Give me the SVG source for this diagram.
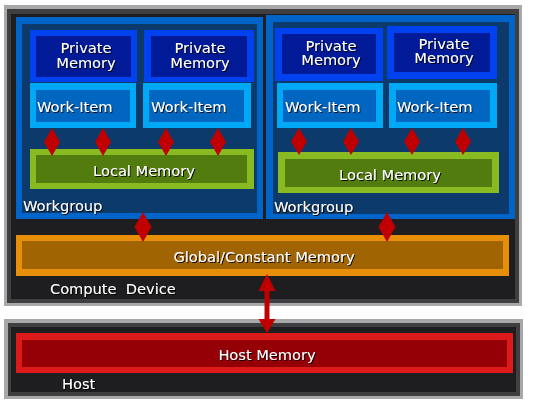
<svg xmlns="http://www.w3.org/2000/svg" width="534" height="404" viewBox="0 0 534 404">
<defs>
<filter id="sh" x="-10%" y="-30%" width="120%" height="160%">
<feDropShadow dx="1" dy="1" stdDeviation="0.4" flood-color="#000" flood-opacity="0.9"/>
</filter>
</defs>
<style>
text{font-family:"DejaVu Sans","Liberation Sans",sans-serif;font-size:14.6px;fill:#fff;filter:url(#sh);}
.c{text-anchor:middle;}
.lg{fill:#a8a8a8;}
.dg{fill:#3f3f41;}
.bk{fill:#1e1e21;}
.wgo{fill:#0064c8;}
.wgi{fill:#0b3a6b;}
.pmo{fill:#0042f0;}
.pmi{fill:#001a98;}
.wio{fill:#00a9f6;}
.wii{fill:#0066c0;}
.lmo{fill:#88bb22;}
.lmi{fill:#527d0e;}
.gmo{fill:#e88f0a;}
.gmi{fill:#a06403;}
.hmo{fill:#dc1a1a;}
.hmi{fill:#940006;}
.arr{fill:#c00000;}
</style>
<g id="compute-device">
<rect class="lg" x="4" y="5" width="518" height="301"/>
<rect class="dg" x="7" y="9" width="512" height="294"/>
<rect class="bk" x="11" y="14" width="504" height="285"/>
<text x="50" y="294" style="white-space:pre">Compute  Device</text>
</g>
<g id="workgroup-1">
<rect class="wgo" x="16" y="17" width="247" height="202"/>
<rect class="wgi" x="22" y="24" width="235" height="189"/>
<text x="23" y="211">Workgroup</text>
</g>
<g id="workgroup-2">
<rect class="wgo" x="266" y="15" width="249" height="204"/>
<rect class="wgi" x="273" y="22" width="236" height="192"/>
<text x="274" y="212">Workgroup</text>
</g>
<g id="private-memory-1">
<rect class="pmo" x="30" y="30" width="107" height="52"/>
<rect class="pmi" x="36" y="36" width="95" height="41"/>
<text class="c" x="86" y="53">Private</text>
<text class="c" x="86" y="67.5">Memory</text>
</g>
<g id="private-memory-2">
<rect class="pmo" x="144" y="30" width="110" height="52"/>
<rect class="pmi" x="151" y="36" width="96" height="41"/>
<text class="c" x="200" y="53">Private</text>
<text class="c" x="200" y="67.5">Memory</text>
</g>
<g id="private-memory-3">
<rect class="pmo" x="275" y="28" width="108" height="53"/>
<rect class="pmi" x="282" y="34" width="94" height="40"/>
<text class="c" x="331" y="51">Private</text>
<text class="c" x="331" y="65">Memory</text>
</g>
<g id="private-memory-4">
<rect class="pmo" x="387" y="26" width="110" height="53"/>
<rect class="pmi" x="394" y="33" width="96" height="39"/>
<text class="c" x="444" y="49">Private</text>
<text class="c" x="444" y="63">Memory</text>
</g>
<g id="work-item-1">
<rect class="wio" x="30" y="83" width="106" height="45"/>
<rect class="wii" x="36" y="90" width="94" height="32"/>
<text x="37" y="112">Work-Item</text>
</g>
<g id="work-item-2">
<rect class="wio" x="143" y="83" width="108" height="45"/>
<rect class="wii" x="149" y="90" width="95" height="32"/>
<text x="151" y="112">Work-Item</text>
</g>
<g id="work-item-3">
<rect class="wio" x="277" y="83" width="106" height="45"/>
<rect class="wii" x="283" y="90" width="93" height="32"/>
<text x="285" y="112">Work-Item</text>
</g>
<g id="work-item-4">
<rect class="wio" x="389" y="83" width="108" height="45"/>
<rect class="wii" x="396" y="90" width="94" height="32"/>
<text x="397" y="112">Work-Item</text>
</g>
<g id="local-memory-1">
<rect class="lmo" x="30" y="149" width="224" height="40"/>
<rect class="lmi" x="36" y="155" width="211" height="28"/>
<text class="c" x="144" y="176">Local Memory</text>
</g>
<g id="local-memory-2">
<rect class="lmo" x="278" y="152" width="221" height="41"/>
<rect class="lmi" x="285" y="159" width="207" height="28"/>
<text class="c" x="390" y="180">Local Memory</text>
</g>
<g id="global-memory">
<rect class="gmo" x="16" y="235" width="493" height="41"/>
<rect class="gmi" x="22" y="241" width="481" height="28"/>
<text class="c" x="264" y="262">Global/Constant Memory</text>
</g>
<g id="host">
<rect class="lg" x="4" y="319" width="519" height="80"/>
<rect class="dg" x="8" y="323" width="512" height="73"/>
<rect class="bk" x="11" y="327" width="505" height="65"/>
<text x="62" y="389">Host</text>
</g>
<g id="host-memory">
<rect class="hmo" x="16" y="333" width="497" height="40"/>
<rect class="hmi" x="22" y="340" width="485" height="27"/>
<text class="c" x="267" y="360">Host Memory</text>
</g>
<g id="connectors">
<polygon class="arr" points="52,128 60,142 52,156 44,142"/>
<polygon class="arr" points="103,128 111,142 103,156 95,142"/>
<polygon class="arr" points="166,128 174,142 166,156 158,142"/>
<polygon class="arr" points="218,128 226,142 218,156 210,142"/>
<polygon class="arr" points="299,128 307,141.5 299,155 291,141.5"/>
<polygon class="arr" points="351,128 359,141.5 351,155 343,141.5"/>
<polygon class="arr" points="412,128 420,141.5 412,155 404,141.5"/>
<polygon class="arr" points="463,128 471,141.5 463,155 455,141.5"/>
<polygon class="arr" points="143,212 151.5,227 143,242 134.5,227"/>
<polygon class="arr" points="387,212 395.5,227 387,242 378.5,227"/>
<polygon class="arr" points="267,274 275.5,291 269.5,291 269.5,319 275.5,319 267,333 258.5,319 264.5,319 264.5,291 258.5,291"/>
</g>
</svg>
